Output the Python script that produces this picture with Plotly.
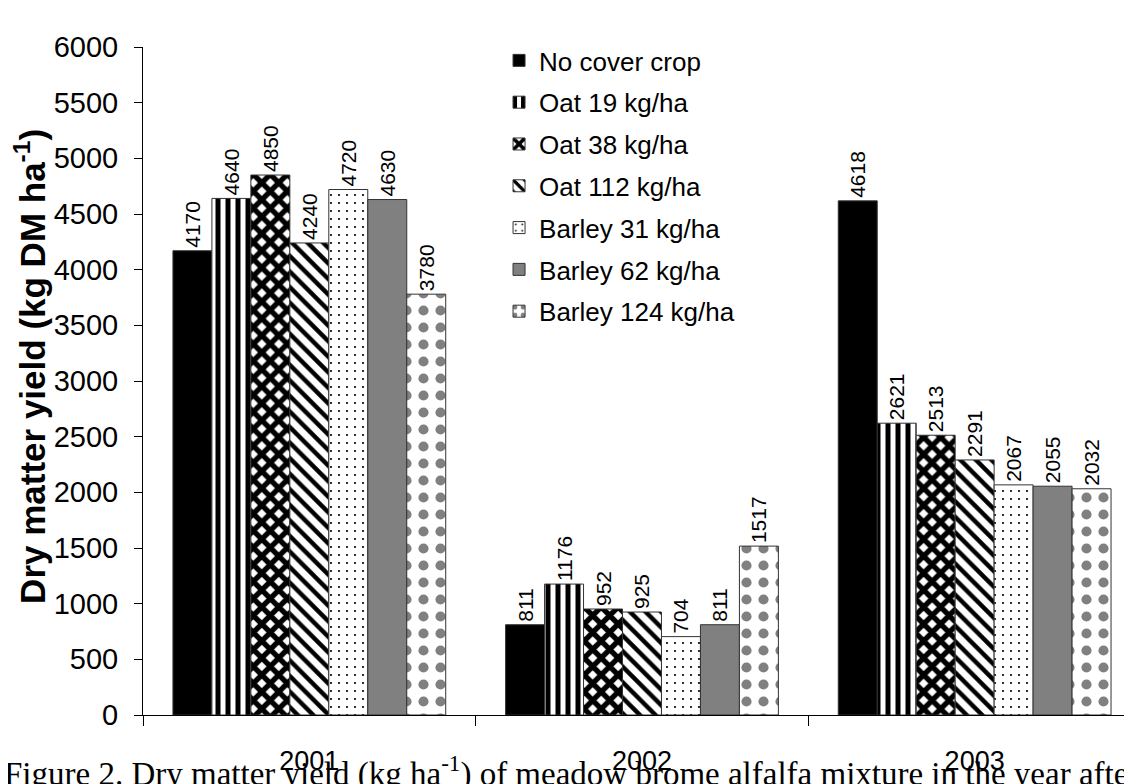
import plotly.graph_objects as go

years = ["2001", "2002", "2003"]
treatments = ["No cover crop", "Oat 19 kg/ha", "Oat 38 kg/ha", "Oat 112 kg/ha",
              "Barley 31 kg/ha", "Barley 62 kg/ha", "Barley 124 kg/ha"]
no_cover = [4170, 811, 4618]
oat_19 = [4640, 1176, 2621]
oat_38 = [4850, 952, 2513]
oat_112 = [4240, 925, 2291]
barley_31 = [4720, 704, 2067]
barley_62 = [4630, 811, 2055]
barley_124 = [3780, 1517, 2032]
series = [no_cover, oat_19, oat_38, oat_112, barley_31, barley_62, barley_124]

styles = [
    dict(color="black", pattern=dict(shape="")),
    dict(color="white", pattern=dict(shape="|", fgcolor="black", bgcolor="white", size=10, solidity=0.5, fillmode="replace")),
    dict(color="white", pattern=dict(shape="x", fgcolor="black", bgcolor="white", size=12, solidity=0.7, fillmode="replace")),
    dict(color="white", pattern=dict(shape="\\", fgcolor="black", bgcolor="white", size=11, solidity=0.4, fillmode="replace")),
    dict(color="white", pattern=dict(shape=".", fgcolor="black", bgcolor="white", size=8, solidity=0.06, fillmode="replace")),
    dict(color="#808080", pattern=dict(shape="")),
    dict(color="white", pattern=dict(shape=".", fgcolor="#808080", bgcolor="white", size=17, solidity=0.28, fillmode="replace")),
]

FONT = "Liberation Sans, Arial, sans-serif"

fig = go.Figure()
for i, (name, vals, st) in enumerate(zip(treatments, series, styles)):
    fig.add_trace(go.Bar(
        x=years, y=vals, name=name, legendgroup=name,
        marker=dict(color=st["color"], pattern=st["pattern"],
                    line=dict(color="#333333", width=1)),
        text=[str(v) for v in vals], textposition="outside", textangle=-90,
        textfont=dict(family=FONT, size=21, color="black"),
        constraintext="none", cliponaxis=False,
    ))

fig.update_layout(
    width=1124, height=776,
    margin=dict(l=135, r=0, t=39, b=69),
    paper_bgcolor="white", plot_bgcolor="white",
    barmode="group", bargap=0.18, bargroupgap=0,
    font=dict(family=FONT, color="black"),
    showlegend=True,
    legend=dict(x=0.36, y=1.015, xanchor="left", yanchor="top",
                font=dict(family=FONT, size=26, color="black"),
                tracegroupgap=5, bgcolor="rgba(0,0,0,0)"),
    xaxis=dict(type="category", categoryorder="array", categoryarray=years,
               range=[-0.5, 2.473], showline=True, linecolor="black", linewidth=1,
               ticks="outside", tickson="boundaries", ticklen=10, tickcolor="black",
               tickfont=dict(family=FONT, size=27, color="black"),
               ticklabelstandoff=22, showgrid=False, zeroline=False),
    yaxis=dict(range=[0, 6000], dtick=500, showline=True, linecolor="black", linewidth=1,
               ticks="outside", ticklen=8, tickcolor="black",
               tickfont=dict(family=FONT, size=29, color="black"),
               ticklabelstandoff=10,
               showgrid=False, zeroline=False,
               title=dict(text="<b>&nbsp;&nbsp;&nbsp;Dry matter yield (kg DM ha<sup>-1</sup>)</b>",
                          font=dict(family=FONT, size=35, color="black"), standoff=2)),
)

fig.add_annotation(
    xref="paper", yref="paper", x=-0.1426, y=0, xanchor="left", yanchor="top",
    yshift=-33, showarrow=False, align="left",
    text="Figure 2. Dry matter yield (kg ha<sup>-1</sup>) of meadow brome alfalfa mixture in the year after",
    font=dict(family="Liberation Serif, Times New Roman, serif", size=33, color="black"),
)

fig.write_html("out.html")
